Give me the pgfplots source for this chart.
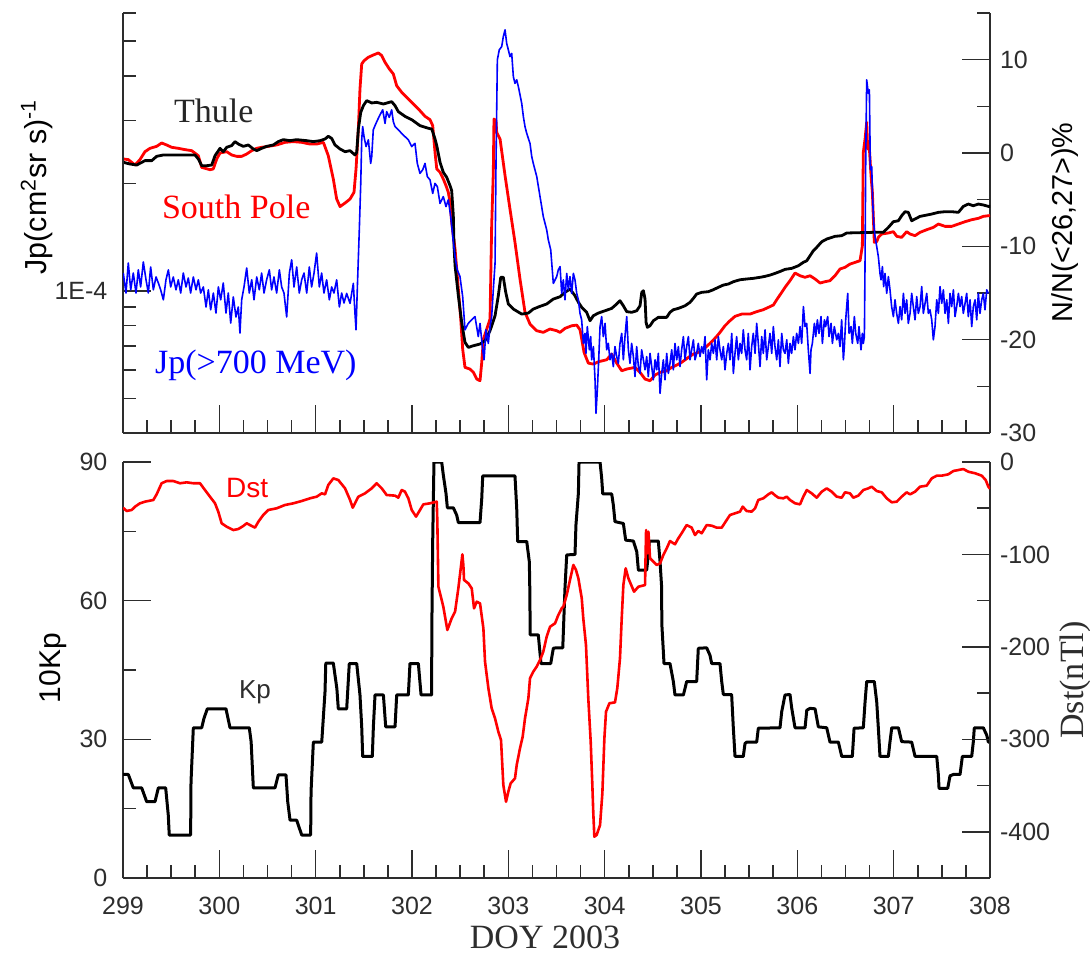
\documentclass[border=0pt]{standalone}
\usepackage{fontspec}
\setmainfont{Liberation Sans}
\newfontfamily\serif{Liberation Serif}
\usepackage{pgfplots}
\pgfplotsset{compat=1.18}
\definecolor{axgray}{RGB}{45,45,45}
\pgfplotsset{
  panel/.style={
    scale only axis, width=433.5pt, anchor=south west,
    xmin=299, xmax=308,
    axis line style={line width=1pt, draw=axgray},
    tick style={line width=0.8pt, draw=axgray},
    major tick length=14pt, minor tick length=6.5pt,
    tick align=inside,
    tick label style={font=\fontsize{12.5}{15}\selectfont, text=axgray},
    every axis plot/.append style={line join=round},
  },
}
\begin{document}
\begin{tikzpicture}
\path[use as bounding box] (0,0) rectangle (545pt,479pt);

% ---------------- top panel, right axis: neutron monitors ----------------
\begin{axis}[panel, at={(61.5pt,262.5pt)}, height=210pt,
  ymin=-30, ymax=15,
  axis x line=none, axis y line*=right,
  ytick={-30,-20,-10,0,10}, yticklabels={-30,-20,-10,0,10},
  minor ytick={-25,-15,-5,5,15},
  yticklabel style={xshift=1.5pt},
]
% South Pole
\addplot[red, line width=1.4pt] coordinates {
(299.003,-0.64)(299.055,-0.71)(299.125,-1.29)(299.176,-0.71)(299.228,0.14)(299.280,0.50)(299.349,0.71)(299.401,1.07)(299.453,0.86)(299.505,0.61)(299.574,0.50)(299.644,0.36)(299.713,0.25)(299.782,-0.29)(299.817,-1.54)(299.903,-1.79)(299.937,-1.71)(299.973,-0.64)(300.007,0.00)(300.076,0.14)(300.128,-0.21)(300.180,-0.36)(300.232,-0.36)(300.284,-0.11)(300.336,0.25)(300.388,0.50)(300.440,0.61)(300.508,0.71)(300.595,0.86)(300.682,1.14)(300.768,1.22)(300.855,1.14)(300.941,0.96)(301.011,0.96)(301.080,1.14)(301.131,-0.29)(301.183,-2.79)(301.218,-4.93)(301.253,-5.74)(301.305,-5.36)(301.357,-4.93)(301.398,-4.21)(301.419,-1.71)(301.443,2.57)(301.460,6.86)(301.478,9.54)(301.502,9.89)(301.547,10.26)(301.599,10.50)(301.651,10.72)(301.686,10.43)(301.720,9.72)(301.765,9.00)(301.806,8.47)(301.841,7.21)(301.893,6.50)(301.945,5.97)(302.014,5.25)(302.083,4.53)(302.135,3.93)(302.187,3.57)(302.215,2.93)(302.239,0.07)(302.257,-1.71)(302.291,-2.07)(302.325,-2.79)(302.353,-3.50)(302.377,-4.21)(302.395,-5.29)(302.412,-7.43)(302.429,-8.86)(302.447,-10.29)(302.481,-14.58)(302.506,-17.79)(302.526,-21.00)(302.550,-22.97)(302.602,-23.15)(302.637,-23.50)(302.672,-24.22)(302.706,-24.40)(302.724,-22.43)(302.741,-19.94)(302.776,-18.86)(302.810,-17.79)(302.827,-7.79)(302.844,-2.07)(302.851,3.64)(302.872,3.46)(302.879,2.22)(302.914,1.50)(302.966,-2.43)(303.017,-6.00)(303.069,-9.57)(303.121,-13.50)(303.173,-17.07)(303.225,-18.33)(303.294,-19.04)(303.363,-19.22)(303.433,-18.86)(303.502,-19.04)(303.537,-19.22)(303.588,-18.79)(303.658,-18.51)(303.710,-18.44)(303.744,-18.94)(303.762,-19.94)(303.786,-21.36)(303.830,-22.51)(303.882,-22.62)(303.934,-22.37)(304.021,-22.15)(304.073,-21.54)(304.125,-22.51)(304.177,-23.33)(304.229,-23.15)(304.315,-22.97)(304.367,-23.50)(304.419,-24.22)(304.471,-24.40)(304.523,-23.79)(304.575,-23.50)(304.644,-23.33)(304.696,-22.97)(304.748,-22.72)(304.799,-22.43)(304.869,-21.90)(304.921,-21.54)(304.990,-21.29)(305.059,-20.72)(305.111,-20.22)(305.163,-19.65)(305.197,-19.22)(305.249,-18.51)(305.301,-17.97)(305.353,-17.50)(305.422,-17.26)(305.509,-17.26)(305.578,-17.00)(305.647,-16.79)(305.699,-16.54)(305.751,-16.29)(305.786,-15.72)(305.838,-14.93)(305.872,-14.40)(305.924,-13.68)(305.976,-12.86)(306.028,-13.15)(306.080,-13.32)(306.132,-13.15)(306.184,-13.50)(306.236,-13.93)(306.288,-13.79)(306.339,-13.68)(306.391,-13.15)(306.443,-12.43)(306.495,-12.25)(306.547,-11.90)(306.599,-11.72)(306.651,-11.54)(306.675,-9.94)(306.679,-5.65)(306.685,0.07)(306.703,1.50)(306.720,3.29)(306.730,0.43)(306.744,1.14)(306.765,-2.43)(306.779,-4.21)(306.799,-9.57)(306.824,-9.50)(306.841,-9.04)(306.876,-8.68)(306.945,-8.57)(306.997,-8.43)(307.032,-8.93)(307.083,-9.04)(307.135,-8.43)(307.170,-8.68)(307.222,-8.86)(307.274,-8.50)(307.343,-8.22)(307.412,-7.97)(307.464,-7.61)(307.533,-7.86)(307.603,-7.86)(307.672,-7.61)(307.741,-7.36)(307.810,-7.15)(307.879,-7.00)(307.931,-6.79)(307.983,-6.72)(308.000,-6.70)
};
% Thule
\addplot[black, line width=1.4pt] coordinates {
(299.003,-1.00)(299.073,-1.18)(299.142,-1.29)(299.228,-0.82)(299.298,-0.82)(299.349,-0.36)(299.419,-0.21)(299.747,-0.21)(299.782,-0.64)(299.817,-1.36)(299.869,-1.36)(299.921,-1.29)(299.955,-0.29)(300.007,0.50)(300.042,0.14)(300.076,0.61)(300.128,0.79)(300.163,1.22)(300.197,0.96)(300.249,0.71)(300.301,0.86)(300.353,0.43)(300.388,0.25)(300.440,0.50)(300.492,0.71)(300.560,0.86)(300.612,1.22)(300.664,1.43)(300.734,1.32)(300.803,1.43)(300.907,1.32)(300.976,1.22)(301.045,1.32)(301.097,1.50)(301.131,1.79)(301.166,1.57)(301.201,0.86)(301.253,0.43)(301.305,0.14)(301.357,0.25)(301.408,-0.21)(301.426,0.07)(301.443,2.57)(301.468,4.36)(301.495,5.07)(301.530,5.61)(301.582,5.36)(301.633,5.43)(301.703,5.25)(301.789,5.50)(301.824,5.07)(301.858,4.43)(301.927,3.93)(301.997,3.57)(302.083,2.93)(302.169,2.65)(302.205,2.57)(302.239,1.50)(302.257,0.79)(302.291,-1.00)(302.325,-2.07)(302.360,-2.60)(302.395,-3.50)(302.412,-4.04)(302.429,-6.72)(302.436,-9.94)(302.447,-12.08)(302.481,-15.29)(302.516,-18.15)(302.550,-20.29)(302.585,-20.83)(302.637,-20.65)(302.706,-20.47)(302.758,-20.11)(302.810,-19.04)(302.862,-17.44)(302.896,-15.29)(302.921,-13.32)(302.948,-13.32)(302.973,-14.93)(303.000,-16.18)(303.052,-16.72)(303.139,-17.26)(303.208,-17.15)(303.259,-16.72)(303.329,-16.43)(303.398,-16.18)(303.467,-15.65)(303.537,-15.40)(303.588,-14.93)(303.640,-14.58)(303.692,-15.29)(303.727,-16.00)(303.762,-16.54)(303.813,-17.07)(303.848,-17.97)(303.882,-17.44)(303.934,-17.15)(304.004,-16.90)(304.073,-16.65)(304.125,-16.18)(304.159,-15.83)(304.194,-16.37)(304.229,-17.00)(304.281,-17.07)(304.333,-16.90)(304.367,-16.37)(304.385,-14.93)(304.402,-14.76)(304.419,-15.65)(304.430,-18.15)(304.443,-18.68)(304.471,-18.51)(304.506,-17.97)(304.557,-17.61)(304.644,-17.61)(304.678,-17.07)(304.713,-16.79)(304.765,-16.65)(304.834,-16.37)(304.886,-16.00)(304.921,-15.57)(304.955,-15.11)(305.007,-14.93)(305.076,-14.86)(305.128,-14.65)(305.180,-14.39)(305.232,-14.15)(305.284,-14.04)(305.336,-13.79)(305.405,-13.58)(305.474,-13.50)(305.543,-13.43)(305.613,-13.32)(305.664,-13.22)(305.716,-13.08)(305.768,-12.90)(305.820,-12.70)(305.872,-12.47)(305.942,-12.36)(306.010,-12.08)(306.062,-11.72)(306.098,-11.54)(306.132,-11.01)(306.166,-10.47)(306.201,-10.11)(306.253,-9.51)(306.305,-9.22)(306.391,-8.93)(306.461,-8.86)(306.513,-8.57)(306.789,-8.50)(306.893,-8.50)(306.945,-7.97)(306.997,-7.36)(307.049,-7.26)(307.083,-6.72)(307.118,-6.29)(307.152,-6.36)(307.187,-7.26)(307.222,-7.07)(307.274,-6.79)(307.343,-6.65)(307.395,-6.54)(307.464,-6.36)(307.533,-6.29)(307.603,-6.29)(307.672,-6.36)(307.723,-5.72)(307.775,-5.47)(307.827,-5.65)(307.879,-5.47)(307.931,-5.57)(307.983,-5.72)(308.000,-5.72)
};
\node[anchor=base west, font=\serif\fontsize{17}{20}\selectfont, text=black!85] at (axis cs:299.457,3.215) {Thule};
\node[anchor=base west, font=\serif\fontsize{17}{20}\selectfont, text=red] at (axis cs:299.332,-6.967) {South Pole};
\end{axis}

% ---------------- top panel, left axis: Jp (log10 values) ----------------
\begin{axis}[panel, at={(61.5pt,262.5pt)}, height=210pt,
  ymin=-4.39794, ymax=-3.22185,
  axis x line*=bottom, axis y line*=left,
  xtick={299,...,308}, minor x tick num=3, xticklabels={},
  ytick={-4}, yticklabels={1E-4},
  minor ytick={-4.30103,-4.22185,-4.15490,-4.09691,-4.04576,-3.69897,-3.52288,-3.39794,-3.30103,-3.22185},
  yticklabel style={xshift=-4.3pt},
]
\addplot[blue, line width=0.8pt] coordinates {
(299.003,-3.950)(299.031,-4.006)(299.055,-3.922)(299.080,-3.997)(299.107,-3.950)(299.135,-4.006)(299.159,-3.941)(299.183,-3.989)(299.211,-3.919)(299.239,-3.969)(299.263,-4.006)(299.287,-3.933)(299.315,-3.997)(299.343,-3.961)(299.367,-3.978)(299.391,-3.997)(299.419,-4.025)(299.446,-3.969)(299.471,-3.941)(299.495,-3.989)(299.522,-3.961)(299.550,-3.997)(299.574,-3.969)(299.599,-4.006)(299.626,-3.950)(299.654,-3.989)(299.678,-3.964)(299.702,-4.006)(299.730,-3.961)(299.758,-3.997)(299.782,-3.969)(299.806,-4.006)(299.834,-3.989)(299.862,-4.045)(299.886,-3.997)(299.910,-4.053)(299.938,-4.006)(299.965,-4.062)(299.990,-3.989)(300.014,-4.025)(300.041,-3.978)(300.069,-4.062)(300.093,-4.006)(300.118,-4.090)(300.145,-4.017)(300.173,-4.073)(300.197,-4.045)(300.214,-4.118)(300.232,-4.025)(300.256,-3.989)(300.284,-3.936)(300.311,-4.006)(300.336,-3.969)(300.360,-4.025)(300.388,-3.961)(300.415,-3.997)(300.439,-3.950)(300.464,-4.006)(300.491,-3.969)(300.519,-3.941)(300.543,-3.997)(300.567,-3.961)(300.595,-4.006)(300.623,-3.941)(300.647,-3.989)(300.671,-4.006)(300.699,-4.073)(300.727,-3.950)(300.751,-3.913)(300.775,-3.989)(300.803,-3.933)(300.830,-4.006)(300.855,-3.969)(300.879,-3.950)(300.907,-4.006)(300.934,-3.933)(300.958,-3.989)(300.983,-3.950)(301.010,-3.894)(301.038,-3.989)(301.062,-3.950)(301.086,-4.006)(301.114,-3.969)(301.142,-4.025)(301.166,-3.989)(301.190,-4.006)(301.218,-3.969)(301.246,-4.045)(301.270,-4.006)(301.294,-4.034)
(301.322,-4.007)(301.357,-4.035)(301.391,-3.979)(301.408,-4.063)(301.419,-4.109)(301.432,-3.997)(301.453,-3.829)(301.468,-3.699)(301.478,-3.577)(301.488,-3.540)(301.502,-3.568)(301.523,-3.596)(301.547,-3.577)(301.571,-3.643)(301.582,-3.624)(301.598,-3.549)(301.626,-3.531)(301.650,-3.517)(301.668,-3.507)(301.696,-3.493)(301.720,-3.531)(301.737,-3.498)(301.764,-3.514)(301.789,-3.493)(301.806,-3.526)(301.824,-3.540)(301.858,-3.549)(301.893,-3.559)(301.927,-3.568)(301.962,-3.577)(301.997,-3.596)(302.031,-3.587)(302.055,-3.643)(302.083,-3.671)(302.111,-3.661)(302.135,-3.643)(302.159,-3.680)(302.187,-3.689)(302.215,-3.727)(302.239,-3.699)(302.263,-3.708)(302.291,-3.755)(302.325,-3.736)(302.353,-3.764)(302.377,-3.745)(302.402,-3.792)(302.423,-3.848)(302.447,-3.904)(302.470,-3.941)(302.498,-3.960)(302.526,-4.016)(302.550,-4.109)(302.584,-4.091)(302.620,-4.081)(302.654,-4.072)(302.688,-4.128)(302.706,-4.091)(302.734,-4.165)(302.748,-4.193)(302.768,-4.109)(302.792,-4.147)(302.810,-4.100)(302.827,-4.072)(302.844,-3.997)(302.862,-3.923)(302.872,-3.643)(302.886,-3.353)(302.906,-3.325)(302.931,-3.316)(302.948,-3.288)(302.966,-3.269)(302.983,-3.307)(303.000,-3.325)(303.017,-3.344)(303.035,-3.335)(303.052,-3.400)(303.069,-3.419)(303.087,-3.409)(303.104,-3.428)(303.139,-3.475)(303.156,-3.512)(303.173,-3.540)(303.191,-3.559)(303.225,-3.587)(303.243,-3.624)(303.259,-3.643)(303.295,-3.680)(303.329,-3.736)(303.363,-3.792)(303.398,-3.829)(303.415,-3.857)(303.440,-3.885)(303.467,-3.979)(303.502,-3.960)(303.519,-3.941)
(303.537,-3.932)(303.554,-4.007)(303.571,-3.969)(303.588,-4.025)(303.606,-3.951)(303.623,-3.997)(303.640,-3.960)(303.658,-4.007)(303.675,-3.951)(303.692,-3.969)(303.710,-4.007)(303.727,-4.025)(303.744,-4.063)(303.761,-4.081)(303.779,-4.147)(303.796,-4.119)(303.806,-4.175)(303.820,-4.100)(303.841,-4.165)(303.855,-4.128)(303.865,-4.193)(303.883,-4.156)(303.900,-4.249)(303.910,-4.343)(303.924,-4.277)(303.938,-4.193)(303.952,-4.100)(303.969,-4.072)(303.986,-4.128)(304.004,-4.091)(304.021,-4.165)(304.038,-4.147)(304.055,-4.193)(304.073,-4.175)(304.090,-4.212)(304.107,-4.156)(304.125,-4.184)(304.142,-4.203)(304.159,-4.147)(304.177,-4.119)(304.194,-4.193)(304.211,-4.128)(304.229,-4.072)(304.246,-4.165)(304.263,-4.203)(304.280,-4.147)(304.298,-4.184)(304.315,-4.240)(304.332,-4.156)(304.350,-4.212)(304.367,-4.231)(304.384,-4.165)(304.402,-4.193)(304.419,-4.221)(304.436,-4.184)(304.453,-4.240)(304.471,-4.175)(304.488,-4.212)(304.505,-4.249)(304.523,-4.193)(304.540,-4.221)(304.557,-4.175)(304.575,-4.287)(304.592,-4.231)(304.609,-4.193)(304.626,-4.249)(304.644,-4.175)(304.661,-4.231)(304.678,-4.203)(304.696,-4.165)(304.713,-4.221)(304.730,-4.147)(304.748,-4.193)(304.765,-4.156)(304.782,-4.212)(304.799,-4.165)(304.817,-4.128)(304.834,-4.193)(304.851,-4.156)(304.869,-4.128)(304.886,-4.193)(304.903,-4.165)(304.921,-4.137)(304.938,-4.193)(304.955,-4.175)(304.972,-4.147)(304.990,-4.184)(305.007,-4.156)(305.024,-4.175)(305.042,-4.128)(305.059,-4.249)(305.076,-4.165)(305.094,-4.193)(305.111,-4.147)(305.128,-4.175)(305.146,-4.137)(305.163,-4.193)(305.180,-4.128)(305.197,-4.165)(305.215,-4.193)(305.232,-4.156)(305.249,-4.221)(305.267,-4.175)(305.284,-4.147)(305.301,-4.193)(305.319,-4.119)(305.336,-4.231)(305.353,-4.175)(305.370,-4.128)(305.388,-4.193)(305.405,-4.147)(305.422,-4.175)(305.439,-4.109)(305.457,-4.165)(305.474,-4.193)(305.491,-4.119)(305.509,-4.221)(305.526,-4.156)(305.543,-4.119)(305.561,-4.175)(305.578,-4.091)(305.595,-4.147)(305.613,-4.212)(305.630,-4.128)(305.647,-4.175)(305.665,-4.109)(305.682,-4.193)(305.699,-4.156)(305.716,-4.119)(305.734,-4.175)(305.751,-4.100)(305.768,-4.156)(305.786,-4.193)(305.803,-4.137)(305.820,-4.212)(305.838,-4.119)(305.855,-4.165)
(305.872,-4.175)(305.890,-4.137)(305.907,-4.203)(305.924,-4.147)(305.941,-4.175)(305.959,-4.128)(305.976,-4.165)(305.993,-4.119)(306.011,-4.147)(306.028,-4.100)(306.045,-4.147)(306.063,-4.044)(306.080,-4.100)(306.097,-4.091)(306.114,-4.165)(306.132,-4.231)(306.142,-4.165)(306.156,-4.147)(306.177,-4.091)(306.191,-4.128)(306.208,-4.081)(306.225,-4.119)(306.246,-4.072)(306.260,-4.147)(306.281,-4.081)(306.294,-4.100)(306.315,-4.072)(306.329,-4.128)(306.350,-4.091)(306.364,-4.147)(306.384,-4.100)(306.409,-4.137)(306.426,-4.119)(306.443,-4.156)(306.460,-4.081)(306.478,-4.193)(306.488,-4.156)(306.502,-4.081)(306.523,-4.007)(306.537,-4.119)(306.557,-4.100)(306.571,-4.147)(306.592,-4.072)(306.606,-4.119)(306.627,-4.147)(306.640,-4.100)(306.661,-4.165)(306.675,-4.119)(306.685,-4.147)(306.696,-4.128)(306.703,-3.913)(306.710,-3.633)(306.720,-3.409)(306.737,-3.447)(306.748,-3.437)(306.758,-3.661)(306.772,-3.652)(306.782,-3.745)(306.793,-3.811)(306.807,-3.848)(306.824,-3.876)(306.841,-3.904)(306.858,-3.951)(306.869,-3.969)(306.883,-3.932)(306.896,-3.988)(306.910,-3.951)(306.928,-4.007)(306.945,-3.960)(306.962,-3.997)(306.979,-4.044)(306.997,-4.072)(307.014,-4.025)(307.031,-4.063)(307.049,-4.091)(307.066,-4.044)(307.083,-4.081)(307.101,-4.007)(307.118,-4.063)(307.135,-4.025)(307.152,-4.091)(307.170,-4.063)(307.187,-4.007)(307.204,-4.044)(307.222,-4.081)(307.239,-4.016)(307.256,-4.063)(307.274,-4.044)(307.291,-3.988)(307.308,-4.063)(307.326,-4.035)(307.343,-4.007)(307.360,-4.063)(307.377,-4.053)(307.395,-4.081)(307.412,-4.137)(307.429,-4.100)(307.447,-4.025)(307.464,-4.063)(307.481,-3.988)(307.499,-4.035)(307.516,-3.997)(307.533,-4.063)(307.551,-4.025)(307.568,-4.091)(307.585,-4.007)(307.602,-4.044)(307.620,-3.997)(307.637,-4.072)(307.654,-4.044)(307.672,-4.007)(307.689,-4.044)(307.706,-4.016)(307.723,-4.063)(307.741,-4.035)(307.758,-4.007)(307.775,-4.072)(307.793,-4.025)(307.810,-4.100)(307.827,-4.044)(307.845,-4.025)(307.862,-4.081)(307.879,-4.007)(307.896,-4.063)(307.914,-4.025)(307.931,-4.007)(307.948,-4.053)(307.966,-3.997)(307.983,-4.007)
};
\node[anchor=base west, font=\serif\fontsize{17}{20}\selectfont, text=blue] at (axis cs:299.26,-4.230) {Jp(>700 MeV)};
\end{axis}

% ---------------- bottom panel, left axis: 10 Kp ----------------
\begin{axis}[panel, at={(61.5pt,40pt)}, height=208pt,
  ymin=0, ymax=90,
  axis x line*=bottom, axis y line*=left,
  xtick={299,...,308}, minor x tick num=3,
  xticklabels={299,300,301,302,303,304,305,306,307,308},
  xticklabel style={yshift=-5.8pt},
  ytick={0,30,60,90}, yticklabels={0,30,60,90}, minor ytick={15,45,75},
  yticklabel style={xshift=-4.3pt},
]
\addplot[black, line width=1.5pt] coordinates {
(299.000,22.4)(299.055,22.4)(299.107,19.5)(299.194,19.5)(299.246,16.5)(299.332,16.5)(299.367,19.5)(299.443,19.5)(299.470,13.6)(299.480,9.3)(299.702,9.3)(299.706,20.8)(299.730,32.5)(299.817,32.5)(299.840,34.5)(299.875,36.6)(300.069,36.6)(300.111,32.5)(300.311,32.5)(300.330,29.5)(300.353,19.5)(300.578,19.5)(300.612,22.3)(300.692,22.3)(300.710,16.5)(300.734,12.5)(300.803,12.5)(300.855,9.3)(300.948,9.3)(300.952,18.7)(300.976,29.4)(301.063,29.4)(301.097,40.3)(301.105,46.5)(301.183,46.5)(301.220,41.0)(301.235,36.6)(301.322,36.6)(301.349,46.4)(301.426,46.4)(301.460,39.6)(301.478,32.7)(301.488,26.3)(301.588,26.3)(301.599,32.7)(301.616,39.6)(301.703,39.6)(301.727,32.7)(301.824,32.7)(301.841,39.6)(301.962,39.6)(301.979,46.4)(302.066,46.4)(302.094,39.6)(302.203,39.6)(302.207,56.2)(302.215,73.1)(302.228,90)(302.308,90)(302.325,87.2)(302.353,83.2)(302.367,80.1)(302.429,80.1)(302.464,78.5)(302.481,76.9)(302.706,76.9)(302.724,82.1)(302.734,87.0)(303.069,87.0)(303.087,80.0)(303.097,72.8)(303.191,72.8)(303.218,68.4)(303.223,62.3)(303.227,52.6)(303.311,52.6)(303.339,46.4)(303.440,46.4)(303.467,49.7)(303.495,49.8)(303.565,49.8)(303.588,62.7)(303.606,69.9)(303.692,70.0)(303.702,76.4)(303.727,83.2)(303.734,90)(303.952,90)(303.969,86.5)(303.980,83.1)(304.073,83.1)(304.090,80.7)(304.107,77.1)(304.194,76.7)(304.218,73.1)(304.298,72.9)(304.333,70.6)(304.350,66.6)(304.436,66.6)(304.453,69.9)(304.464,72.9)(304.557,72.9)(304.575,68.4)(304.590,63.4)(304.594,54.7)(304.616,46.4)(304.678,46.4)(304.713,42.5)(304.730,39.6)(304.817,39.6)(304.834,41.0)(304.851,42.5)(304.955,42.5)(304.972,49.7)(305.059,49.8)(305.093,48.2)(305.111,46.4)(305.197,46.4)(305.215,42.5)(305.232,39.7)(305.318,39.7)(305.335,32.7)(305.353,26.3)(305.439,26.3)(305.457,29.1)(305.474,29.4)(305.578,29.4)(305.595,32.4)(305.820,32.5)(305.838,36.0)(305.872,39.6)(305.924,39.7)(305.942,36.7)(305.976,32.5)(306.080,32.5)(306.098,36.3)(306.132,36.7)(306.184,36.6)(306.218,32.7)(306.305,32.5)(306.339,29.4)(306.426,29.4)(306.461,26.3)(306.571,26.3)(306.589,32.4)(306.685,32.5)(306.703,38.1)(306.720,42.5)(306.799,42.5)(306.824,38.1)(306.841,32.4)(306.858,26.3)(306.945,26.3)(306.962,29.5)(306.980,32.5)(307.049,32.5)(307.083,29.5)(307.187,29.4)(307.222,26.3)(307.447,26.3)(307.464,22.3)(307.471,19.4)(307.561,19.4)(307.585,22.1)(307.620,22.4)(307.689,22.4)(307.713,26.3)(307.810,26.3)(307.827,29.5)(307.837,32.5)(307.931,32.5)(307.966,30.9)(307.983,29.4)(308.000,29.4)
};
\node[anchor=base west, font=\fontsize{13}{15}\selectfont, text=axgray] at (axis cs:300.131,38.9) {Kp};
\end{axis}

% ---------------- bottom panel, right axis: Dst ----------------
\begin{axis}[panel, at={(61.5pt,40pt)}, height=208pt,
  ymin=-450, ymax=0,
  axis x line=none, axis y line*=right,
  ytick={-400,-300,-200,-100,0}, yticklabels={-400,-300,-200,-100,0},
  minor ytick={-350,-250,-150,-50},
  yticklabel style={xshift=1.5pt},
]
\addplot[red, line width=1.3pt] coordinates {
(299.000,-49.4)(299.038,-53.0)(299.090,-51.9)(299.125,-48.3)(299.176,-44.7)(299.228,-42.9)(299.315,-41.1)(299.349,-35.0)(299.401,-23.0)(299.453,-20.6)(299.522,-20.6)(299.592,-23.0)(299.661,-22.0)(299.730,-23.0)(299.799,-23.0)(299.851,-30.3)(299.903,-37.5)(299.955,-44.7)(299.989,-53.7)(300.024,-66.3)(300.076,-70.0)(300.145,-73.6)(300.197,-72.5)(300.249,-69.2)(300.284,-66.3)(300.318,-68.2)(300.370,-71.0)(300.405,-64.6)(300.456,-57.3)(300.508,-51.9)(300.595,-50.1)(300.682,-46.5)(300.768,-44.7)(300.855,-42.2)(300.941,-39.3)(301.011,-37.5)(301.063,-33.9)(301.097,-35.0)(301.131,-24.9)(301.183,-17.7)(301.235,-19.5)(301.305,-28.5)(301.357,-41.1)(301.385,-49.4)(301.408,-44.7)(301.443,-37.5)(301.512,-33.9)(301.582,-28.5)(301.633,-23.0)(301.686,-28.5)(301.737,-35.7)(301.824,-36.4)(301.858,-38.6)(301.893,-30.3)(301.927,-32.1)(301.962,-39.3)(301.997,-51.9)(302.042,-59.1)(302.083,-51.9)(302.118,-45.8)(302.187,-44.7)(302.257,-42.9)(302.263,-64.6)(302.267,-89.8)(302.274,-134.9)(302.325,-156.5)(302.367,-181.7)(302.412,-169.1)(302.447,-161.9)(302.481,-136.7)(302.506,-115.0)(302.523,-99.9)(302.533,-111.4)(302.540,-127.6)(302.585,-131.3)(302.620,-136.7)(302.644,-158.3)(302.672,-151.1)(302.706,-152.9)(302.741,-179.9)(302.758,-216.0)(302.793,-244.8)(302.827,-266.4)(302.862,-277.3)(302.896,-291.7)(302.924,-300.7)(302.948,-349.4)(302.976,-367.5)(303.000,-356.6)(303.024,-347.6)(303.069,-342.2)(303.087,-327.8)(303.121,-309.7)(303.149,-297.1)(303.173,-277.3)(303.208,-255.6)(303.225,-234.0)(303.259,-226.8)(303.294,-221.4)(303.329,-214.2)(303.363,-205.2)(303.398,-189.0)(303.433,-178.2)(303.485,-174.5)(303.519,-165.5)(303.554,-158.3)(303.571,-156.5)(303.606,-143.9)(303.640,-127.6)(303.675,-111.4)(303.702,-116.8)(303.727,-125.8)(303.762,-147.4)(303.778,-169.1)(303.806,-198.0)(303.830,-255.6)(303.855,-302.6)(303.872,-349.4)(303.882,-380.0)(303.893,-405.3)(303.917,-403.5)(303.952,-392.7)(303.976,-358.4)(303.997,-298.9)(304.014,-270.1)(304.049,-261.0)(304.107,-260.0)(304.131,-244.8)(304.159,-212.4)(304.177,-169.1)(304.194,-133.1)(304.218,-115.0)(304.246,-125.8)(304.305,-140.3)(304.350,-134.9)(304.419,-133.1)(304.430,-73.6)(304.443,-98.8)(304.454,-75.4)(304.471,-104.2)(304.506,-107.9)(304.540,-111.4)(304.575,-109.6)(304.609,-100.6)(304.644,-93.4)(304.678,-85.5)(304.730,-89.0)(304.765,-82.5)(304.799,-77.1)(304.851,-68.2)(304.903,-71.0)(304.938,-79.0)(304.972,-74.6)(305.007,-77.1)(305.059,-68.2)(305.111,-68.9)(305.163,-71.0)(305.215,-71.0)(305.267,-62.7)(305.301,-57.3)(305.353,-55.5)(305.405,-53.7)(305.433,-48.3)(305.474,-53.0)(305.526,-53.7)(305.561,-50.1)(305.595,-41.1)(305.647,-39.3)(305.699,-35.0)(305.734,-32.8)(305.768,-36.0)(305.803,-38.6)(305.855,-39.3)(305.890,-37.5)(305.924,-41.1)(305.976,-44.7)(306.028,-45.8)(306.062,-37.5)(306.098,-30.3)(306.149,-33.9)(306.201,-38.6)(306.253,-32.1)(306.305,-28.5)(306.357,-32.1)(306.409,-37.5)(306.461,-38.6)(306.495,-32.8)(306.547,-33.9)(306.581,-38.6)(306.633,-36.4)(306.685,-30.3)(306.737,-28.5)(306.772,-26.7)(306.824,-31.4)(306.876,-32.8)(306.928,-39.3)(306.980,-43.6)(307.032,-42.9)(307.083,-37.5)(307.135,-32.8)(307.170,-35.0)(307.222,-32.1)(307.274,-26.7)(307.343,-25.6)(307.395,-17.7)(307.447,-14.8)(307.499,-14.8)(307.568,-13.3)(307.620,-9.7)(307.672,-8.7)(307.723,-7.6)(307.775,-10.5)(307.845,-12.2)(307.914,-14.8)(307.955,-19.5)(307.983,-26.7)(308.000,-29.0)
};
\node[anchor=base west, font=\fontsize{14}{16}\selectfont, text=red] at (axis cs:299.997,-38.9) {Dst};
\end{axis}

% ---------------- axis titles ----------------
\node[rotate=90, anchor=center, font=\fontsize{15.2}{18}\selectfont] at (18.25pt,385.5pt) {Jp(cm\textsuperscript{2}sr s)\textsuperscript{-1}};
\node[rotate=90, anchor=center, font=\fontsize{14.4}{17}\selectfont] at (532.75pt,367.75pt) {N/N(<26,27>)\%};
\node[rotate=90, anchor=center, font=\fontsize{15}{18}\selectfont] at (26.5pt,145pt) {10Kp};
\node[rotate=90, anchor=center, font=\serif\fontsize{17}{20}\selectfont, text=axgray] at (537.5pt,139pt) {Dst(nTl)};
\node[anchor=base, font=\serif\fontsize{17}{20}\selectfont, text=axgray] at (272.5pt,5pt) {DOY 2003};
\end{tikzpicture}
\end{document}
